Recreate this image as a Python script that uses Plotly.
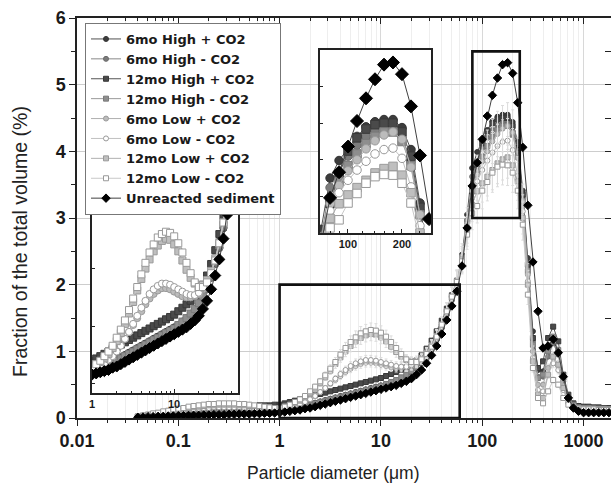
import numpy as np
import plotly.graph_objects as go

# ---------------- data ----------------
BINS = [0.0399, 0.0448, 0.0502, 0.0564, 0.0632, 0.0710, 0.0796, 0.0893, 0.1002, 0.1125,
        0.1262, 0.1416, 0.1589, 0.1783, 0.2000, 0.2244, 0.2518, 0.2825, 0.3170, 0.3557,
        0.3991, 0.4477, 0.5024, 0.5637, 0.6325, 0.7096, 0.7962, 0.8934,
        1.0024, 1.1247, 1.2619, 1.4159, 1.5887, 1.7825, 2.0000, 2.2440, 2.5179, 2.8251,
        3.1698, 3.5566, 3.9905, 4.4774, 5.0238, 5.6368, 6.3246, 7.0963, 7.9621, 8.9337,
        10.024, 11.247, 12.619, 14.159, 15.887, 17.825, 20.000, 22.440, 25.179, 28.251,
        31.698, 35.566, 39.905, 44.774, 50.238, 56.368, 63.246, 70.963, 79.621, 89.337,
        100.24, 112.47, 126.19, 141.59, 158.87, 178.25, 200.00, 224.40, 251.79, 282.51,
        316.98, 355.66, 399.05, 447.74, 502.38, 563.68, 632.46, 709.63, 796.21, 893.37,
        1002.4, 1124.7, 1261.9, 1415.9, 1588.7, 1782.5, 2000.0]

SERIES_NAMES = ["6mo High + CO2", "6mo High - CO2", "12mo High + CO2", "12mo High - CO2",
                "6mo Low + CO2", "6mo Low - CO2", "12mo Low + CO2", "12mo Low - CO2",
                "Unreacted sediment"]

HIGH6_PLUS = [0.02, 0.03, 0.04, 0.05, 0.06, 0.07, 0.08, 0.09, 0.09, 0.10, 0.10, 0.11, 0.11, 0.12,
              0.12, 0.12, 0.13, 0.13, 0.13, 0.13, 0.14, 0.14, 0.14, 0.14, 0.14, 0.15, 0.15, 0.15,
              0.15, 0.16, 0.17, 0.18, 0.19, 0.20, 0.22, 0.23, 0.25, 0.27, 0.29, 0.31, 0.33, 0.35,
              0.37, 0.39, 0.41, 0.43, 0.45, 0.47,
              0.49, 0.51, 0.54, 0.57, 0.60, 0.64, 0.68, 0.74, 0.82, 0.92, 1.04, 1.18, 1.35, 1.55,
              1.77, 2.02, 2.45, 3.05, 3.75, 3.99,
              4.16, 4.32, 4.45, 4.52, 4.55, 4.55, 4.44, 4.14, 3.41, 2.40, 1.30, 0.72, 0.70, 1.00,
              1.20, 1.00, 0.58, 0.30, 0.18, 0.14,
              0.12, 0.12, 0.12, 0.11, 0.11, 0.11, 0.11]
HIGH6_MINUS = [0.02, 0.03, 0.04, 0.05, 0.06, 0.07, 0.07, 0.08, 0.08, 0.09, 0.09, 0.10, 0.10, 0.10,
               0.11, 0.11, 0.11, 0.11, 0.12, 0.12, 0.12, 0.12, 0.12, 0.13, 0.13, 0.13, 0.13, 0.13,
               0.13, 0.14, 0.15, 0.16, 0.17, 0.18, 0.19, 0.21, 0.22, 0.24, 0.26, 0.28, 0.30, 0.32,
               0.34, 0.36, 0.38, 0.40, 0.42, 0.44,
               0.46, 0.49, 0.52, 0.55, 0.59, 0.63, 0.68, 0.74, 0.82, 0.92, 1.04, 1.18, 1.36, 1.56,
               1.78, 2.02, 2.40, 2.95, 3.62, 3.84,
               4.05, 4.20, 4.32, 4.40, 4.45, 4.45, 4.30, 3.98, 3.30, 2.25, 1.15, 0.62, 0.62, 0.92,
               1.12, 0.95, 0.55, 0.28, 0.18, 0.14,
               0.12, 0.12, 0.12, 0.12, 0.11, 0.11, 0.11]
HIGH12_PLUS = [0.02, 0.03, 0.04, 0.05, 0.06, 0.07, 0.08, 0.09, 0.10, 0.11, 0.12, 0.13, 0.14, 0.15,
               0.15, 0.16, 0.16, 0.17, 0.17, 0.17, 0.18, 0.18, 0.18, 0.18, 0.19, 0.19, 0.19, 0.20,
               0.20, 0.22, 0.24, 0.26, 0.28, 0.30, 0.32, 0.34, 0.36, 0.38, 0.40, 0.42, 0.44, 0.46,
               0.48, 0.50, 0.52, 0.54, 0.56, 0.58,
               0.60, 0.63, 0.66, 0.69, 0.72, 0.76, 0.80, 0.86, 0.94, 1.04, 1.16, 1.30, 1.46, 1.64,
               1.84, 2.06, 2.40, 2.85, 3.40, 3.80,
               4.12, 4.30, 4.42, 4.48, 4.50, 4.50, 4.38, 4.05, 3.35, 2.30, 1.20, 0.75, 0.85, 1.20,
               1.37, 1.15, 0.65, 0.35, 0.22, 0.18,
               0.17, 0.17, 0.16, 0.16, 0.15, 0.15, 0.15]
HIGH12_MINUS = [0.02, 0.03, 0.04, 0.05, 0.06, 0.06, 0.07, 0.07, 0.08, 0.08, 0.09, 0.09, 0.10, 0.10,
                0.10, 0.11, 0.11, 0.11, 0.11, 0.12, 0.12, 0.12, 0.12, 0.12, 0.13, 0.13, 0.13, 0.13,
                0.13, 0.14, 0.15, 0.16, 0.17, 0.19, 0.20, 0.22, 0.24, 0.26, 0.28, 0.30, 0.32, 0.34,
                0.36, 0.38, 0.40, 0.42, 0.44, 0.46,
                0.48, 0.51, 0.54, 0.57, 0.61, 0.65, 0.70, 0.76, 0.84, 0.94, 1.06, 1.20, 1.38, 1.58,
                1.80, 2.05, 2.42, 2.95, 3.45, 3.70,
                3.92, 4.08, 4.22, 4.32, 4.38, 4.38, 4.25, 3.92, 3.25, 2.20, 1.10, 0.60, 0.65, 1.00,
                1.22, 1.02, 0.60, 0.30, 0.20, 0.16,
                0.15, 0.15, 0.14, 0.14, 0.14, 0.13, 0.13]
LOW6_PLUS = [0.02, 0.03, 0.04, 0.05, 0.06, 0.07, 0.08, 0.09, 0.10, 0.11, 0.12, 0.13, 0.14, 0.15,
             0.16, 0.16, 0.17, 0.17, 0.17, 0.17, 0.17, 0.16, 0.16, 0.15, 0.15, 0.14, 0.14, 0.14,
             0.14, 0.15, 0.17, 0.19, 0.22, 0.25, 0.29, 0.34, 0.39, 0.45, 0.51, 0.57, 0.63, 0.69,
             0.74, 0.78, 0.81, 0.83, 0.83, 0.82,
             0.80, 0.78, 0.76, 0.75, 0.75, 0.76, 0.78, 0.82, 0.88, 0.97, 1.08, 1.22, 1.40, 1.60,
             1.82, 2.06, 2.42, 2.92, 3.40, 3.65,
             3.85, 4.00, 4.15, 4.26, 4.34, 4.38, 4.28, 3.90, 3.25, 2.15, 1.00, 0.50, 0.50, 0.75,
             0.90, 0.80, 0.48, 0.25, 0.16, 0.13,
             0.12, 0.12, 0.11, 0.11, 0.11, 0.10, 0.10]
LOW6_MINUS = [0.02, 0.03, 0.04, 0.05, 0.06, 0.07, 0.08, 0.09, 0.10, 0.11, 0.12, 0.13, 0.14, 0.15,
              0.15, 0.16, 0.16, 0.16, 0.16, 0.16, 0.16, 0.15, 0.15, 0.14, 0.14, 0.13, 0.13, 0.13,
              0.13, 0.14, 0.16, 0.18, 0.21, 0.24, 0.28, 0.33, 0.39, 0.45, 0.52, 0.59, 0.66, 0.72,
              0.78, 0.82, 0.85, 0.87, 0.87, 0.86,
              0.84, 0.82, 0.80, 0.78, 0.77, 0.77, 0.79, 0.83, 0.89, 0.98, 1.09, 1.23, 1.40, 1.60,
              1.82, 2.05, 2.38, 2.85, 3.30, 3.55,
              3.72, 3.86, 3.98, 4.08, 4.14, 4.16, 4.02, 3.63, 3.10, 2.05, 0.90, 0.42, 0.40, 0.65,
              0.82, 0.72, 0.42, 0.22, 0.15, 0.12,
              0.11, 0.11, 0.10, 0.10, 0.10, 0.10, 0.10]
LOW12_PLUS = [0.02, 0.03, 0.05, 0.06, 0.07, 0.09, 0.10, 0.11, 0.13, 0.14, 0.15, 0.16, 0.17, 0.18,
              0.19, 0.19, 0.20, 0.20, 0.20, 0.20, 0.19, 0.19, 0.18, 0.18, 0.17, 0.16, 0.16, 0.15,
              0.15, 0.17, 0.19, 0.22, 0.26, 0.31, 0.37, 0.44, 0.52, 0.61, 0.71, 0.81, 0.91, 1.00,
              1.08, 1.15, 1.20, 1.24, 1.26, 1.25,
              1.21, 1.15, 1.07, 0.99, 0.92, 0.87, 0.85, 0.86, 0.90, 0.98, 1.09, 1.23, 1.40, 1.60,
              1.82, 2.05, 2.38, 2.80, 3.20, 3.40,
              3.52, 3.62, 3.72, 3.82, 3.88, 3.91, 3.79, 3.55, 3.00, 2.00, 0.85, 0.35, 0.30, 0.65,
              0.92, 0.80, 0.45, 0.25, 0.18, 0.15,
              0.14, 0.14, 0.14, 0.13, 0.13, 0.13, 0.13]
LOW12_MINUS = [0.02, 0.04, 0.05, 0.07, 0.08, 0.10, 0.11, 0.13, 0.14, 0.15, 0.17, 0.18, 0.19, 0.20,
               0.21, 0.21, 0.22, 0.22, 0.22, 0.22, 0.21, 0.21, 0.20, 0.19, 0.18, 0.17, 0.16, 0.15,
               0.15, 0.17, 0.20, 0.24, 0.28, 0.33, 0.40, 0.47, 0.55, 0.64, 0.74, 0.84, 0.95, 1.05,
               1.14, 1.21, 1.27, 1.30, 1.32, 1.31,
               1.28, 1.22, 1.14, 1.05, 0.96, 0.88, 0.84, 0.84, 0.88, 0.96, 1.07, 1.22, 1.40, 1.60,
               1.82, 2.04, 2.35, 2.75, 3.07, 3.18,
               3.41, 3.54, 3.68, 3.77, 3.80, 3.79, 3.68, 3.41, 2.90, 1.85, 0.75, 0.30, 0.22, 0.40,
               0.57, 0.50, 0.30, 0.20, 0.16, 0.14,
               0.13, 0.13, 0.13, 0.12, 0.12, 0.12, 0.12]
UNREACTED = [0.01, 0.015, 0.02, 0.02, 0.025, 0.025, 0.03, 0.03, 0.035, 0.035, 0.04, 0.04, 0.04, 0.045,
             0.045, 0.05, 0.05, 0.05, 0.055, 0.055, 0.06, 0.06, 0.06, 0.065, 0.065, 0.07, 0.07, 0.075,
             0.08, 0.09, 0.10, 0.11, 0.12, 0.14, 0.15, 0.17, 0.19, 0.21, 0.23, 0.25, 0.27, 0.29,
             0.31, 0.33, 0.35, 0.37, 0.39, 0.41,
             0.43, 0.45, 0.47, 0.49, 0.52, 0.55, 0.59, 0.65, 0.72, 0.82, 0.94, 1.08, 1.26, 1.47,
             1.68, 1.90, 2.28, 2.85, 3.48, 3.83,
             4.18, 4.53, 4.84, 5.10, 5.30, 5.33, 5.17, 4.73, 4.06, 3.19, 2.34, 1.60, 1.05, 1.08,
             1.18, 0.98, 0.62, 0.30, 0.15, 0.10,
             0.08, 0.08, 0.08, 0.08, 0.08, 0.08, 0.08]

SERIES_VALUES = [HIGH6_PLUS, HIGH6_MINUS, HIGH12_PLUS, HIGH12_MINUS,
                 LOW6_PLUS, LOW6_MINUS, LOW12_PLUS, LOW12_MINUS, UNREACTED]

X_TITLE = "Particle diameter (μm)"
Y_TITLE = "Fraction of the total volume (%)"
X_RANGE = [0.01, 1870]
Y_RANGE = [0, 6]
INSET1_BOX_X = [1, 60]
INSET1_BOX_Y = [0, 2]
INSET1_Y_RANGE = [-0.08, 1.5]
INSET2_BOX_X = [80, 235]
INSET2_BOX_Y = [3, 5.5]
INSET2_X_RANGE = [70, 290]

# ---------------- styles ----------------
FONT = "Liberation Sans, Arial, sans-serif"
LEGEND_FONT = "DejaVu Sans, Liberation Sans, sans-serif"
# symbol, fill, edge, line colour, has error bars
STYLES = [
    ("circle", "#3c3c3c", "#333333", "#505050", False),
    ("circle", "#7c7c7c", "#6a6a6a", "#888888", False),
    ("square", "#4a4a4a", "#383838", "#555555", False),
    ("square", "#8e8e8e", "#7a7a7a", "#999999", False),
    ("circle", "#bcbcbc", "#9a9a9a", "#b0b0b0", True),
    ("circle", "#ffffff", "#999999", "#c0c0c0", True),
    ("square", "#bfbfbf", "#9a9a9a", "#b0b0b0", True),
    ("square", "#ffffff", "#999999", "#c8c8c8", True),
    ("diamond", "#000000", "#000000", "#404040", False),
]

fig = go.Figure()

def add_series(xaxis, yaxis, msize, legend, errbars):
    for name, vals, (sym, fill, edge, lc, eb) in zip(SERIES_NAMES, SERIES_VALUES, STYLES):
        kw = {}
        if errbars and eb:
            kw["error_y"] = dict(type="percent", value=8, color="#dcdcdc", thickness=1, width=1.5)
        ms = msize + (1.5 if sym == "diamond" else 0)
        fig.add_trace(go.Scatter(
            x=BINS, y=vals, name=name, mode="lines+markers",
            xaxis=xaxis, yaxis=yaxis, showlegend=legend,
            line=dict(color=lc, width=1),
            marker=dict(symbol=sym, size=ms, color=fill, line=dict(color=edge, width=1)),
            hoverinfo="skip", **kw))

add_series("x", "y", 5, True, True)
add_series("x3", "y3", 7, False, False)
add_series("x4", "y4", 8.5, False, False)
# empty trace that carries the mirrored (top / right) inward-tick axes
fig.add_trace(go.Scatter(x=[], y=[], xaxis="x2", yaxis="y2", showlegend=False, hoverinfo="skip"))

L, R, T, B = 77, 0, 18, 78
W, H = 611, 496
pw, ph = W - L - R, H - T - B

def px_x(px):
    return (px - L) / pw

def px_y(py):
    return (H - B - py) / ph

IN1_DX, IN1_DY = [px_x(92), px_x(238)], [px_y(393), px_y(211)]
IN2_DX, IN2_DY = [px_x(320), px_x(431)], [px_y(233), px_y(50)]

lg = np.log10
XR = [lg(X_RANGE[0]), lg(X_RANGE[1])]
tickfont_main = dict(family=FONT, size=18, color="#1a1a1a", weight="bold")
inset_tickfont = dict(family=FONT, size=11, color="#1a1a1a", weight="bold")

fig.update_layout(
    width=W, height=H, margin=dict(l=L, r=R, t=T, b=B, autoexpand=False),
    paper_bgcolor="white", plot_bgcolor="white",
    font=dict(family=FONT, color="#1a1a1a"),
    xaxis=dict(type="log", range=XR, domain=[0, 1], anchor="y", automargin=False,
               dtick=1, exponentformat="none", ticks="outside", ticklen=6, tickwidth=1.2,
               tickcolor="#222", showline=True, linecolor="#222", linewidth=1.5,
               showgrid=True, gridcolor="#d8d8d8", gridwidth=1, zeroline=False,
               minor=dict(dtick="D1", ticks="outside", ticklen=3, tickcolor="#222",
                          showgrid=True, gridcolor="#eeeeee", gridwidth=1),
               tickfont=tickfont_main),
    yaxis=dict(range=Y_RANGE, domain=[0, 1], anchor="x", automargin=False, dtick=1,
               ticks="outside", ticklen=6,
               tickwidth=1.2, tickcolor="#222", showline=True, linecolor="#222", linewidth=1.5,
               showgrid=True, gridcolor="#cdcdcd", gridwidth=1, zeroline=False,
               minor=dict(dtick=0.5, ticks="outside", ticklen=4, tickcolor="#222", showgrid=False),
               tickfont=tickfont_main),
    xaxis2=dict(type="log", range=XR, overlaying="x", side="top", automargin=False,
                anchor="y2", dtick=1, ticks="inside", ticklen=6, tickcolor="#222",
                showticklabels=False, showline=True, linecolor="#222", linewidth=1.5,
                showgrid=False, zeroline=False,
                minor=dict(dtick="D1", ticks="inside", ticklen=3, tickcolor="#222", showgrid=False)),
    yaxis2=dict(range=Y_RANGE, overlaying="y", side="right", anchor="x2", dtick=0.5,
                automargin=False, ticks="inside", ticklen=6, tickcolor="#222",
                showticklabels=False, showline=False, showgrid=False, zeroline=False),
    xaxis3=dict(type="log", range=[lg(INSET1_BOX_X[0]), lg(INSET1_BOX_X[1])], domain=IN1_DX,
                anchor="y3", automargin=False, tickvals=[1, 10], ticktext=["1", "10"],
                ticks="inside", ticklen=4,
                tickcolor="#222", showline=True, mirror=True, linecolor="#222", linewidth=1.5,
                showgrid=False, zeroline=False, tickfont=inset_tickfont,
                minor=dict(tickvals=[2, 3, 4, 5, 6, 7, 8, 9, 20, 30, 40, 50], ticks="inside",
                           ticklen=2, tickcolor="#222", showgrid=False)),
    yaxis3=dict(range=INSET1_Y_RANGE, domain=IN1_DY, anchor="x3", automargin=False, dtick=0.5,
                ticks="inside", ticklen=3, tickcolor="#222", showticklabels=False, showline=True,
                mirror=True, linecolor="#222", linewidth=1.5, showgrid=False, zeroline=False),
    xaxis4=dict(type="log", range=[lg(INSET2_X_RANGE[0]), lg(INSET2_X_RANGE[1])], domain=IN2_DX,
                anchor="y4", automargin=False, tickvals=[100, 200], ticktext=["100", "200"],
                ticks="inside", ticklen=4, tickcolor="#222", showline=True, mirror=True,
                linecolor="#222", linewidth=1.5, showgrid=False, zeroline=False,
                tickfont=inset_tickfont,
                minor=dict(tickvals=[80, 90, 120, 140, 160, 180, 250], ticks="inside", ticklen=2,
                           tickcolor="#222", showgrid=False)),
    yaxis4=dict(range=[INSET2_BOX_Y[0], INSET2_BOX_Y[1]], domain=IN2_DY, anchor="x4",
                automargin=False, dtick=0.5, ticks="inside", ticklen=3, tickcolor="#222",
                showticklabels=False, showline=True, mirror=True, linecolor="#222",
                linewidth=1.5, showgrid=False, zeroline=False),
    legend=dict(x=px_x(85), y=px_y(23), xanchor="left", yanchor="top",
                bgcolor="white", bordercolor="#777", borderwidth=1,
                font=dict(family=LEGEND_FONT, size=13, color="#1a1a1a", weight="bold"),
                itemwidth=30, tracegroupgap=0),
    showlegend=True,
    annotations=[
        dict(text=X_TITLE, xref="paper", yref="paper", x=px_x(333), y=px_y(473),
             xanchor="center", yanchor="middle", showarrow=False,
             font=dict(family=FONT, size=17.5, color="#222")),
        dict(text=Y_TITLE, xref="paper", yref="paper", x=px_x(20), y=px_y(242),
             xanchor="center", yanchor="middle", showarrow=False, textangle=-90,
             font=dict(family=FONT, size=19.5, color="#222")),
    ],
)

# white backgrounds of the insets (inset domains expressed in main-axis data units)
def to_data_x(f):
    return 10 ** (XR[0] + f * (XR[1] - XR[0]))

def to_data_y(f):
    return Y_RANGE[0] + f * (Y_RANGE[1] - Y_RANGE[0])

shapes = []
for dx, dy in [(IN1_DX, IN1_DY), (IN2_DX, IN2_DY)]:
    shapes.append(dict(type="rect", xref="x", yref="y",
                       x0=to_data_x(dx[0]), x1=to_data_x(dx[1]),
                       y0=to_data_y(dy[0]), y1=to_data_y(dy[1]),
                       fillcolor="white", line=dict(width=0), layer="between"))
for bx, by in [(INSET1_BOX_X, INSET1_BOX_Y), (INSET2_BOX_X, INSET2_BOX_Y)]:
    shapes.append(dict(type="rect", xref="x", yref="y", x0=bx[0], x1=bx[1],
                       y0=by[0], y1=by[1], line=dict(color="#111", width=2.6),
                       fillcolor="rgba(0,0,0,0)", layer="above"))
fig.update_layout(shapes=shapes)

fig.write_html("out.html", config={"displayModeBar": False},
               post_script="document.body.style.margin='0px';document.body.style.padding='0px';")
